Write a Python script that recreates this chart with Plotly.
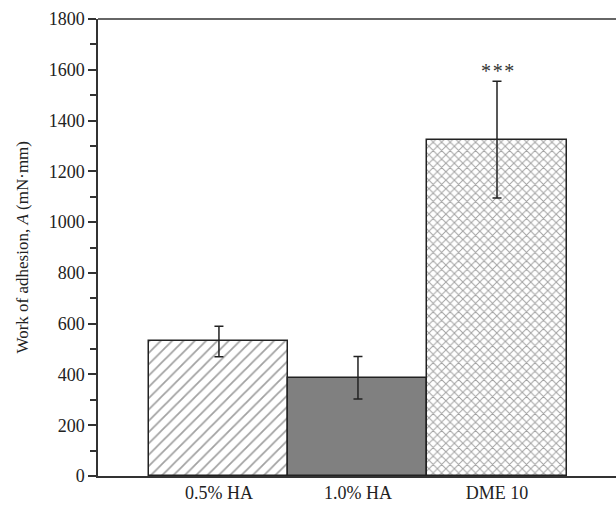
import plotly.graph_objects as go

categories = ["0.5% HA", "1.0% HA", "DME 10"]
values = [530, 387, 1325]
errors = [60, 84, 230]
y_ticks = [0, 200, 400, 600, 800, 1000, 1200, 1400, 1600, 1800]
significance = "*\u200a*\u200a*"
y_title = "Work of adhesion, <i>A</i> (mN·mm)"

FONT = "Liberation Serif"
x_pos = list(range(len(categories)))

fig = go.Figure()
fig.add_trace(go.Bar(
    x=x_pos, y=values, width=1.0,
    marker=dict(
        color=["white", "#808080", "white"],
        line=dict(color="#222222", width=1.5),
        pattern=dict(shape=["/", "", "x"], fgcolor=["#111111", "#808080", "#333333"],
                     bgcolor=["white", "#808080", "white"],
                     size=[8, 8, 6], solidity=[0.22, 0.3, 0.3]),
    ),
    error_y=dict(type="data", array=errors, visible=True, color="#222222",
                 thickness=1.5, width=4.5),
    showlegend=False,
))

fig.add_annotation(x=2, y=1597, text=significance, showarrow=False,
                   font=dict(family=FONT, size=20, color="#333333"),
                   xanchor="center", yanchor="middle")

# y-axis title
fig.add_annotation(xref="paper", yref="paper", x=-0.1467, y=0.5, text=y_title,
                   textangle=-90, showarrow=False, xanchor="center", yanchor="middle",
                   font=dict(family=FONT, size=17, color="#222222"))

# top frame line
fig.add_shape(type="line", xref="paper", yref="paper", x0=0, x1=1, y0=1, y1=1,
              line=dict(color="#333333", width=1.5))

fig.update_layout(
    width=616, height=505,
    margin=dict(l=98, r=0, t=19, b=29),
    plot_bgcolor="white", paper_bgcolor="white",
    font=dict(family=FONT, size=18, color="#222222"),
    bargap=0,
    xaxis=dict(
        range=[-0.87, 2.856], tickvals=x_pos, ticktext=categories,
        showline=True, linecolor="#333333", linewidth=1.5,
        ticks="", showgrid=False, zeroline=False,
        tickfont=dict(family=FONT, size=18, color="#222222"),
    ),
    yaxis=dict(
        range=[0, 1800], tickvals=y_ticks,
        showline=True, linecolor="#333333", linewidth=1.5,
        ticks="outside", ticklen=8, tickwidth=1.5, tickcolor="#333333",
        minor=dict(dtick=100, ticks="outside", ticklen=6, tickwidth=1.5, tickcolor="#333333", showgrid=False),
        showgrid=False, zeroline=False,
        tickfont=dict(family=FONT, size=18, color="#222222"),
    ),
)

fig.write_html("out.html", config={"displayModeBar": False},
               post_script="document.body.style.margin='0';document.body.style.overflow='hidden';")
